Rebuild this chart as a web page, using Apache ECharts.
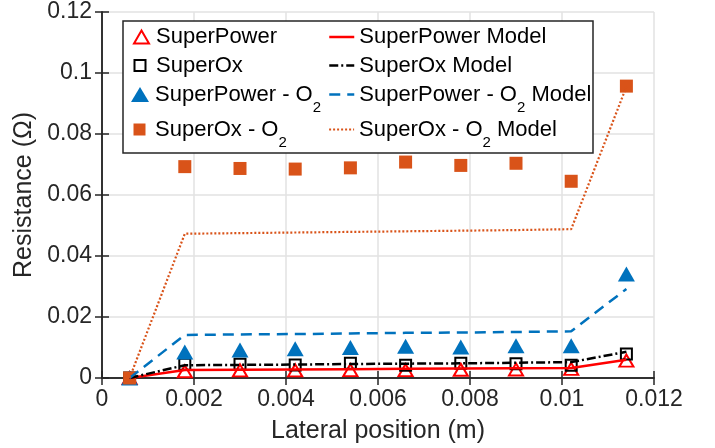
<!DOCTYPE html>
<html><head><meta charset="utf-8">
<script src="https://cdn.jsdelivr.net/npm/echarts@6/dist/echarts.min.js"></script>
<style>html,body{margin:0;padding:0;background:#fff}#c{width:715px;height:448px}</style>
</head><body><div id="c"></div>
<script>
// ---- data ----
const positions = [0.0006, 0.0018, 0.0030, 0.0042, 0.0054, 0.0066, 0.0078, 0.0090, 0.0102, 0.0114];
const superPower        = [0, 0.0022, 0.0025, 0.0025, 0.0026, 0.0026, 0.0027, 0.0028, 0.0030, 0.0057];
const superOx           = [0, 0.0045, 0.0045, 0.0043, 0.0048, 0.0042, 0.0048, 0.0047, 0.0042, 0.0079];
const superPowerO2      = [0, 0.0085, 0.0092, 0.0096, 0.0100, 0.0104, 0.0102, 0.0106, 0.0106, 0.0341];
const superOxO2         = [0, 0.0693, 0.0687, 0.0685, 0.0689, 0.0708, 0.0697, 0.0704, 0.0645, 0.0957];
const superPowerModel   = [0, 0.0026, 0.0027, 0.0028, 0.0029, 0.0030, 0.0031, 0.0032, 0.0033, 0.0060];
const superOxModel      = [0, 0.0042, 0.0043, 0.0044, 0.0046, 0.0047, 0.0048, 0.0050, 0.0052, 0.0086];
const superPowerO2Model = [0, 0.0141, 0.0143, 0.0144, 0.0146, 0.0148, 0.0149, 0.0151, 0.0153, 0.0292];
const superOxO2Model    = [0, 0.0473, 0.0475, 0.0477, 0.0479, 0.0481, 0.0483, 0.0485, 0.0488, 0.0955];
const xTickValues = [0, 0.002, 0.004, 0.006, 0.008, 0.01, 0.012];
const yTickValues = [0, 0.02, 0.04, 0.06, 0.08, 0.1, 0.12];
const markerNames = ['SuperPower', 'SuperOx', 'SuperPower - O2', 'SuperOx - O2'];
const modelNames = ['SuperPower Model', 'SuperOx Model', 'SuperPower - O2 Model', 'SuperOx - O2 Model'];
const xTitle = 'Lateral position (m)';
const yTitle = 'Resistance (Ω)';

// ---- styles ----
const FONT = 'Liberation Sans';
const AX = '#262626';
const RED = '#FF0000', BLACK = '#000000', BLUE = '#0072BD', ORANGE = '#D95319';
const pairs = ys => positions.map((x, i) => [x, ys[i]]);

const markerStyles = [
  {symbol: 'triangle', size: [14, 12], itemStyle: {color: 'rgba(0,0,0,0)', borderColor: RED, borderWidth: 2, opacity: 1}},
  {symbol: 'rect', size: 11, itemStyle: {color: 'rgba(0,0,0,0)', borderColor: BLACK, borderWidth: 2, opacity: 1}},
  {symbol: 'triangle', size: [17, 15], itemStyle: {color: BLUE, opacity: 1}},
  {symbol: 'rect', size: 13, itemStyle: {color: ORANGE, opacity: 1}}
];
const markerData = [superPower, superOx, superPowerO2, superOxO2];
const modelData = [superPowerModel, superOxModel, superPowerO2Model, superOxO2Model];
const modelStyles = [
  {color: RED, width: 2.5, type: 'solid'},
  {color: BLACK, width: 2.5, type: [9, 3, 2, 3]},
  {color: BLUE, width: 2.5, type: [11, 7]},
  {color: ORANGE, width: 2.2, type: [2, 2]}
];

const series = [];
markerNames.forEach((n, i) => series.push({
  name: n, type: 'scatter', data: pairs(markerData[i]),
  symbol: markerStyles[i].symbol, symbolSize: markerStyles[i].size,
  itemStyle: markerStyles[i].itemStyle, emphasis: {disabled: true}
}));
modelNames.forEach((n, i) => series.push({
  name: n, type: 'line', data: pairs(modelData[i]), symbol: 'none', showSymbol: false,
  lineStyle: modelStyles[i], itemStyle: {color: modelStyles[i].color}, emphasis: {disabled: true}
}));

// legend layout (two columns, four rows)
const rowCenters = [37, 65.5, 94.5, 129.5];
const rowHeights = [22, 22, 41, 41];
const col1Icons = [
  {w: 15, h: 13, cx: 140.5}, {w: 11, h: 11, cx: 139}, {w: 18, h: 15, cx: 140}, {w: 12, h: 12, cx: 139.5}
];
const textX1 = 155, col2Left = 328;
const fmt = name => name.replace('O2', 'O{sub|2}');
const rich = {sub: {fontSize: 15, fontFamily: FONT, color: '#000', verticalAlign: 'bottom', lineHeight: 15}};
const legends = [];
markerNames.forEach((n, i) => {
  const ic = col1Icons[i];
  const left = ic.cx - ic.w / 2;
  legends.push({
    data: [{name: n, icon: markerStyles[i].symbol === 'rect' ? 'rect' : 'triangle', itemStyle: markerStyles[i].itemStyle}],
    left: left, top: rowCenters[i] - rowHeights[i] / 2, padding: 0, itemWidth: ic.w, itemHeight: ic.h,
    selectedMode: false, formatter: fmt,
    textStyle: {fontFamily: FONT, fontSize: 22, color: '#000', lineHeight: rowHeights[i],
      padding: [0, 0, 0, textX1 - (left + ic.w + 5)], rich: rich}
  });
});
modelNames.forEach((n, i) => {
  legends.push({
    data: [{name: n, itemStyle: {color: 'rgba(0,0,0,0)', borderWidth: 0, opacity: 0}}],
    left: col2Left, top: rowCenters[i] - rowHeights[i] / 2, padding: 0,
    itemWidth: 25, itemHeight: 14, selectedMode: false, formatter: fmt,
    lineStyle: {color: modelStyles[i].color, width: modelStyles[i].width, type: modelStyles[i].type, opacity: 1},
    textStyle: {fontFamily: FONT, fontSize: 22, color: '#000', lineHeight: rowHeights[i], rich: rich}
  });
});

const tickFmt = v => String(parseFloat(Number(v).toFixed(4)));
const axisCommon = {
  axisLine: {show: true, lineStyle: {color: AX, width: 1.5}},
  axisTick: {show: true, inside: true, length: 7, lineStyle: {color: AX, width: 1.5}}
};

const chart = echarts.init(document.getElementById('c'), null, {renderer: 'canvas'});
chart.setOption({
  animation: false,
  backgroundColor: '#fff',
  grid: {left: 102, right: 61, top: 12, bottom: 70, containLabel: false, outerBoundsMode: 'none'},
  xAxis: [
    Object.assign({
      type: 'value', position: 'bottom', min: xTickValues[0], max: xTickValues[xTickValues.length - 1],
      interval: xTickValues[1] - xTickValues[0],
      name: xTitle, nameLocation: 'middle', nameGap: 41,
      nameTextStyle: {fontFamily: FONT, fontSize: 25, color: AX},
      axisLabel: {fontFamily: FONT, fontSize: 23, color: AX, margin: 10, formatter: tickFmt},
      splitLine: {show: true, lineStyle: {color: '#e2e2e2', width: 1.5}}
    }, axisCommon),
    Object.assign({
      type: 'value', position: 'top', min: xTickValues[0], max: xTickValues[xTickValues.length - 1],
      interval: xTickValues[1] - xTickValues[0], axisLabel: {show: false}, splitLine: {show: false}
    }, axisCommon)
  ],
  yAxis: [
    Object.assign({
      type: 'value', position: 'left', min: yTickValues[0], max: yTickValues[yTickValues.length - 1],
      interval: yTickValues[1] - yTickValues[0],
      name: yTitle, nameLocation: 'middle', nameGap: 56,
      nameTextStyle: {fontFamily: FONT, fontSize: 25, color: AX},
      axisLabel: {fontFamily: FONT, fontSize: 23, color: AX, margin: 10, formatter: tickFmt},
      splitLine: {show: true, lineStyle: {color: '#e2e2e2', width: 1.5}}
    }, axisCommon),
    Object.assign({
      type: 'value', position: 'right', min: yTickValues[0], max: yTickValues[yTickValues.length - 1],
      interval: yTickValues[1] - yTickValues[0], axisLabel: {show: false}, splitLine: {show: false}
    }, axisCommon)
  ],
  legend: legends,
  graphic: [{
    type: 'rect', z: 3, shape: {x: 123, y: 21, width: 470, height: 132},
    style: {fill: '#fff', stroke: AX, lineWidth: 1.5}
  }],
  series: series
});
</script></body></html>
